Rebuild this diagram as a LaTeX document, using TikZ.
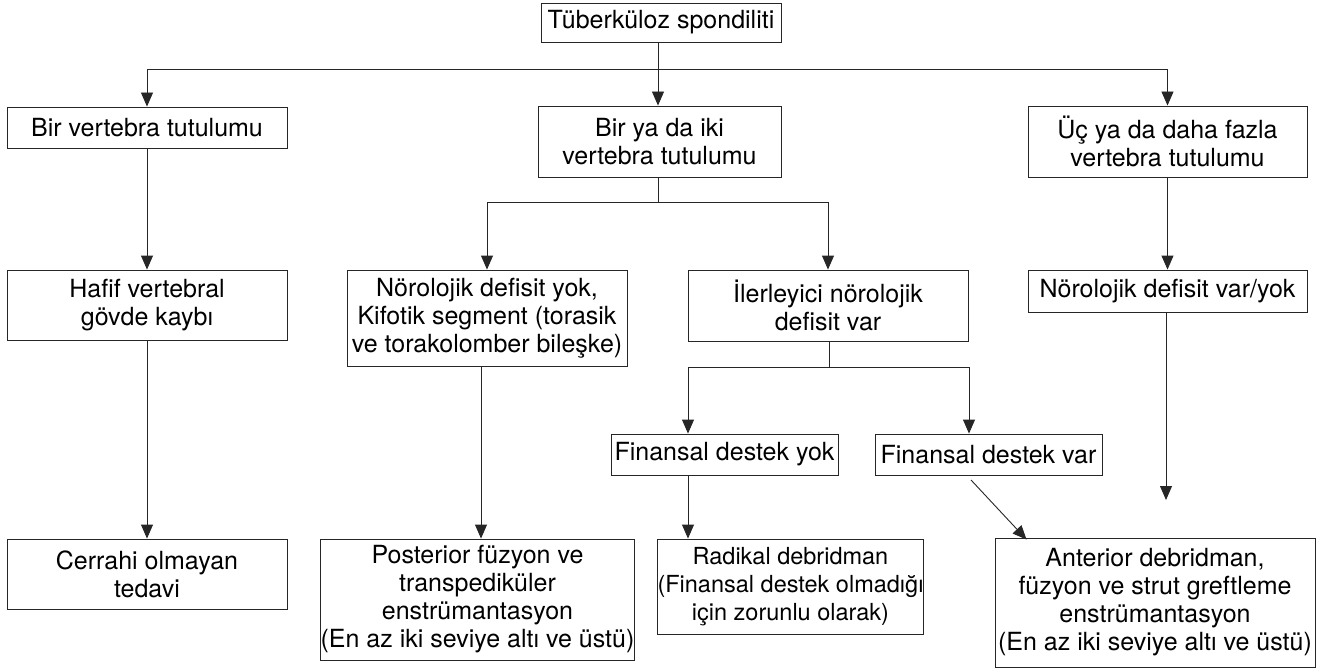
\documentclass[tikz,border=0pt]{standalone}
\usepackage{fontspec}
\setmainfont{TeX Gyre Heros}
\usetikzlibrary{arrows.meta}
\begin{document}
\begin{tikzpicture}[x=1pt,y=-1pt,
  box/.style={draw=black!85, line width=0.9pt, align=center, inner sep=0pt,
              font=\fontsize{25}{28}\selectfont},
  arr/.style={draw=black!85, line width=0.9pt, -{Triangle[length=14pt,width=12pt]}},
  ln/.style={draw=black!85, line width=0.9pt}]
\useasboundingbox (0,0) rectangle (1328,671);
% nodes
\node[box, minimum width=240pt, minimum height=39pt] (top) at (661,22.5) {Tüberküloz spondiliti};
\node[box, minimum width=280pt, minimum height=41pt] (b1) at (147,127.5) {Bir vertebra tutulumu};
\node[box, minimum width=243pt, minimum height=71pt] (b2) at (659.5,141.5) {Bir ya da iki\\vertebra tutulumu};
\node[box, minimum width=279pt, minimum height=71pt] (b3) at (1167.5,141.5) {Üç ya da daha fazla\\vertebra tutulumu};
\node[box, minimum width=280pt, minimum height=70pt] (hafif) at (147,305) {Hafif vertebral\\gövde kaybı};
\node[box, minimum width=280pt, minimum height=70pt] (cerrahi) at (147,574) {Cerrahi olmayan\\tedavi};
\node[box, minimum width=280pt, minimum height=96pt] (noroyok) at (487,318) {Nörolojik defisit yok,\\Kifotik segment (torasik\\ve torakolomber bileşke)};
\node[box, minimum width=280pt, minimum height=71pt] (ilerl) at (828,305.5) {İlerleyici nörolojik\\defisit var};
\node[box, minimum width=279pt, minimum height=42pt] (nvy) at (1167.5,291) {Nörolojik defisit var/yok};
\node[box, minimum width=227pt, minimum height=41pt] (fyok) at (724.5,454.5) {Finansal destek yok};
\node[box, minimum width=227pt, minimum height=41pt] (fvar) at (988.5,454.5) {Finansal destek var};
\node[box, minimum width=313pt, minimum height=121pt] (post) at (477.5,599.5) {Posterior füzyon ve\\transpediküler\\enstrümantasyon\\(En az iki seviye altı ve üstü)};
\node[box, minimum width=253pt, minimum height=95pt, font=\fontsize{23.5}{28}\selectfont] (radikal) at (790.5,586.5) {Radikal debridman\\(Finansal destek olmadığı\\için zorunlu olarak)};
\node[box, minimum width=320pt, minimum height=129pt] (anterior) at (1155,602.5) {Anterior debridman,\\füzyon ve strut greftleme\\enstrümantasyon\\(En az iki seviye altı ve üstü)};
% connectors
\coordinate (j1) at (658,69);
\draw[ln] (j1 |- top.south) -- (j1);
\draw[arr] (j1) -| (b1.north);
\draw[arr] (j1) -| (b3.north);
\draw[arr] (j1) -- (j1 |- b2.north);
\draw[arr] (b1.south) -- (hafif.north);
\draw[arr] (hafif.south) -- (cerrahi.north);
\coordinate (j2) at (658,202);
\draw[ln] (j2 |- b2.south) -- (j2);
\draw[arr] (j2) -| (noroyok.north);
\draw[arr] (j2) -| (ilerl.north);
\coordinate (p1) at (481,0);
\draw[arr] (p1 |- noroyok.south) -- (p1 |- post.north);
\coordinate (j3) at (829,367);
\coordinate (fy) at (688,367);
\coordinate (fv) at (969,367);
\draw[ln] (j3 |- ilerl.south) -- (j3);
\draw[ln] (fy) -- (fv);
\draw[arr] (fy) -- (fy |- fyok.north);
\draw[arr] (fv) -- (fv |- fvar.north);
\draw[arr] (fy |- fyok.south) -- (fy |- radikal.north);
\coordinate (d1) at (971,480);
\draw[arr] (d1) -- ([xshift=32pt,yshift=-2pt]anterior.north west);
\draw[arr] (b3.south) -- (nvy.north);
\coordinate (e1) at (1166,500);
\draw[arr] (e1 |- nvy.south) -- (e1);
\end{tikzpicture}
\end{document}
